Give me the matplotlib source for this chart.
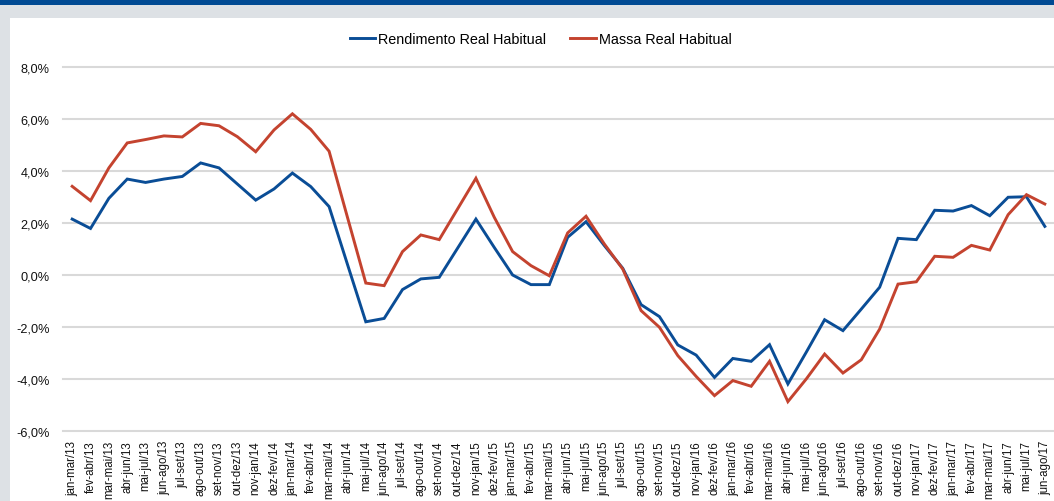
import matplotlib
matplotlib.use("Agg")
import matplotlib.pyplot as plt
from matplotlib.patches import Rectangle
from matplotlib.ticker import FuncFormatter

labels = [
    "jan-mar/13", "fev-abr/13", "mar-mai/13", "abr-jun/13", "mai-jul/13", "jun-ago/13",
    "jul-set/13", "ago-out/13", "set-nov/13", "out-dez/13",
    "nov-jan/14", "dez-fev/14", "jan-mar/14", "fev-abr/14", "mar-mai/14", "abr-jun/14",
    "mai-jul/14", "jun-ago/14", "jul-set/14", "ago-out/14", "set-nov/14", "out-dez/14",
    "nov-jan/15", "dez-fev/15", "jan-mar/15", "fev-abr/15", "mar-mai/15", "abr-jun/15",
    "mai-jul/15", "jun-ago/15", "jul-set/15", "ago-out/15", "set-nov/15", "out-dez/15",
    "nov-jan/16", "dez-fev/16", "jan-mar/16", "fev-abr/16", "mar-mai/16", "abr-jun/16",
    "mai-jul/16", "jun-ago/16", "jul-set/16", "ago-out/16", "set-nov/16", "out-dez/16",
    "nov-jan/17", "dez-fev/17", "jan-mar/17", "fev-abr/17", "mar-mai/17", "abr-jun/17",
    "mai-jul/17", "jun-ago/17",
]

rendimento = [
    2.15, 1.79, 2.95, 3.69, 3.56, 3.69, 3.79, 4.31, 4.12, 3.50,
    2.88, 3.31, 3.92, 3.40, 2.63, 0.41, -1.80, -1.67,
    -0.56, -0.15, -0.09, 1.03, 2.15, 1.06, 0.00, -0.37, -0.37, 1.45,
    2.05, 1.13, 0.26, -1.14, -1.60, -2.69, -3.08, -3.94,
    -3.21, -3.32, -2.68, -4.19, -2.97, -1.72, -2.14, -1.31, -0.47, 1.41,
    1.36, 2.49, 2.46, 2.67, 2.28, 2.99, 3.01, 1.87,
]

massa = [
    3.41, 2.86, 4.12, 5.08, 5.21, 5.35, 5.31, 5.83, 5.74, 5.32,
    4.74, 5.58, 6.20, 5.60, 4.76, 2.22, -0.31, -0.41,
    0.90, 1.54, 1.36, 2.54, 3.72, 2.22, 0.90, 0.36, -0.03, 1.62,
    2.26, 1.19, 0.23, -1.37, -2.01, -3.10, -3.90, -4.64,
    -4.06, -4.28, -3.32, -4.87, -4.00, -3.04, -3.77, -3.26, -2.08, -0.35,
    -0.26, 0.72, 0.68, 1.14, 0.96, 2.32, 3.09, 2.73,
]

series_names = ["Rendimento Real Habitual", "Massa Real Habitual"]
yticks = [-6, -4, -2, 0, 2, 4, 6, 8]

BLUE = "#0a4d96"
RED = "#c4432f"

plt.rcParams["font.family"] = ["Liberation Sans", "DejaVu Sans"]

W, H = 1054, 502
fig = plt.figure(figsize=(W / 100, H / 100), dpi=100)
fig.patch.set_facecolor("white")

# frame decorations
fig.patches.append(Rectangle((0, 1 - 19 / H), 1, 19 / H, transform=fig.transFigure,
                             facecolor="#dde1e5", edgecolor="none", zorder=0))
fig.patches.append(Rectangle((0, 0), 10 / W, 1, transform=fig.transFigure,
                             facecolor="#dde1e5", edgecolor="none", zorder=0))
fig.patches.append(Rectangle((0, 1 - 6 / H), 1, 6 / H, transform=fig.transFigure,
                             facecolor="#004a93", edgecolor="none", zorder=1))

left, right = 63 / W, 1.0
bottom, top = (H - 432) / H, (H - 68) / H
ax = fig.add_axes([left, bottom, right - left, top - bottom])
ax.set_facecolor("none")

x = list(range(len(labels)))
ax.plot(x, rendimento, color=BLUE, lw=2.1, label=series_names[0], solid_joinstyle="miter", zorder=3)
ax.plot(x, massa, color=RED, lw=2.1, label=series_names[1], solid_joinstyle="miter", zorder=3)

ax.set_xlim(-0.5, len(labels) - 0.5)
ax.set_ylim(-6, 8)
ax.set_yticks(yticks)
ax.yaxis.set_major_formatter(FuncFormatter(lambda v, p: f"{v:.1f}%".replace(".", ",")))
ax.set_xticks(x)
ax.set_xticklabels(labels, rotation=90, fontsize=8.3, color="#111111")
ax.tick_params(axis="y", length=0, pad=9.5, labelsize=9.2, labelcolor="#111111")
ax.tick_params(axis="x", length=0, pad=6.5)

for s in ax.spines.values():
    s.set_visible(False)
ax.grid(axis="y", color="#d9d9d9", lw=1.5)
ax.set_axisbelow(True)
for gl in ax.get_ygridlines():
    gl.set_clip_on(False)

fig.legend(loc="center", bbox_to_anchor=(540.5 / W, (H - 40) / H), ncol=2, frameon=False,
           fontsize=10.4, handlelength=1.75, handletextpad=0.2, columnspacing=1.7)

fig.savefig("out.png", dpi=100)
